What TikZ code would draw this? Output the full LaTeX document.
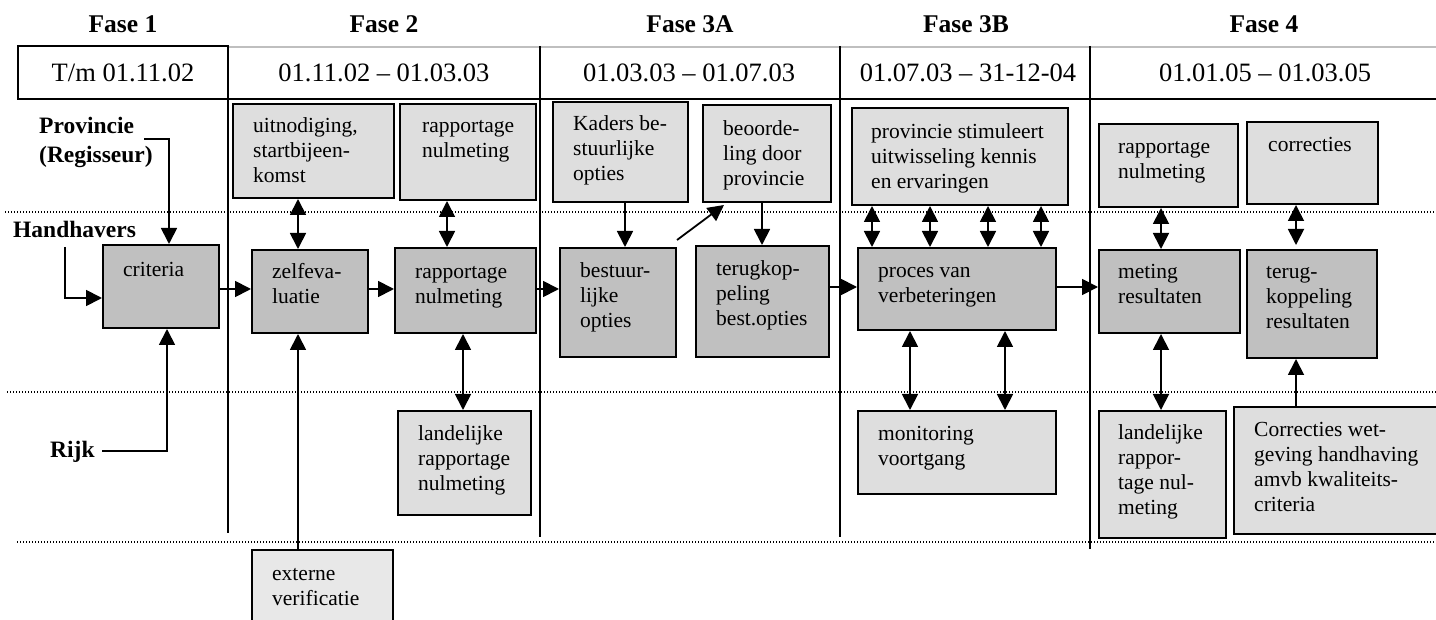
\documentclass[tikz,border=0pt]{standalone}
\usepackage{fontspec}
\setmainfont{Liberation Serif}
\usetikzlibrary{arrows.meta}
\definecolor{lightbox}{HTML}{DEDEDE}
\definecolor{darkbox}{HTML}{C0C0C0}
\definecolor{extbox}{HTML}{E8E8E8}
\begin{document}
\begin{tikzpicture}[x=1pt,y=-1pt,
  boxbase/.style={draw=black, line width=2pt, rectangle, inner sep=0pt, anchor=north west},
  lbox/.style={boxbase, fill=lightbox},
  dbox/.style={boxbase, fill=darkbox},
  ebox/.style={boxbase, fill=extbox},
  txt/.style={font=\fontsize{21.5}{25}\selectfont, align=left, inner sep=0pt, anchor=north west},
  hdr/.style={font=\bfseries\fontsize{25.5}{30}\selectfont, inner sep=0pt, anchor=base},
  datetxt/.style={font=\fontsize{26.5}{30}\selectfont, inner sep=0pt, anchor=base},
  rowlbl/.style={font=\bfseries\fontsize{23.5}{29}\selectfont, inner sep=0pt, align=left},
  arr/.style={line width=1.8pt, -{Triangle[length=16pt,width=16pt]}},
  dbl/.style={line width=1.8pt, {Triangle[length=16pt,width=16pt]}-{Triangle[length=16pt,width=16pt]}},
  vline/.style={line width=2pt, black},
  dotline/.style={line width=1.3pt, black, dash pattern=on 1.3pt off 1.7pt},
]
\useasboundingbox (0,0) rectangle (1436,620);

% ---------- header ----------
\draw[black!25, line width=1.2pt] (228,47) -- (1436,47);
\draw[line width=2pt] (18,46) rectangle (228,99);
\draw[line width=2pt] (18,99) -- (1436,99);

\node[hdr] (h1) at (123,33) {Fase 1};
\node[hdr] (h2) at (384,33) {Fase 2};
\node[hdr] (h3) at (690,33) {Fase 3A};
\node[hdr] (h4) at (966,33) {Fase 3B};
\node[hdr] (h5) at (1264,33) {Fase 4};

\node[datetxt] (d1) at (123,82) {T/m 01.11.02};
\node[datetxt] (d2) at (384,82) {01.11.02 – 01.03.03};
\node[datetxt] (d3) at (689,82) {01.03.03 – 01.07.03};
\node[datetxt] (d4) at (968,82) {01.07.03 – 31-12-04};
\node[datetxt] (d5) at (1265,82) {01.01.05 – 01.03.05};

% ---------- grid lines ----------
\draw[vline] (228,46) -- (228,533);
\draw[vline] (540,46) -- (540,537);
\draw[vline] (840,46) -- (840,537);
\draw[vline] (1090,46) -- (1090,549);

\draw[dotline] (5,212) -- (1436,212);
\draw[dotline] (7,392) -- (1436,392);
\draw[dotline] (17,542) -- (1436,542);

% ---------- row labels ----------
\node[rowlbl, anchor=north west] (prov0) at (39,112.7) {\strut Provincie\\(Regisseur)};
\node[rowlbl, anchor=base west] (hand) at (13,238) {Handhavers};
\node[rowlbl, anchor=base west] (rijk) at (50,457) {Rijk};

% ---------- row 1 boxes ----------
\node[lbox, minimum width=161pt, minimum height=94pt] (uit) at (232,103) {};
\node[lbox, minimum width=136pt, minimum height=96pt] (rap1) at (399,103) {};
\node[lbox, minimum width=135pt, minimum height=100pt] (kad) at (552,101) {};
\node[lbox, minimum width=128pt, minimum height=97pt] (beo) at (702,104) {};
\node[lbox, minimum width=216pt, minimum height=97pt] (prov) at (851,107) {};
\node[lbox, minimum width=139pt, minimum height=83pt] (rap4) at (1098,123) {};
\node[lbox, minimum width=131pt, minimum height=82pt] (cor) at (1246,121) {};

% ---------- row 2 boxes ----------
\node[dbox, minimum width=116pt, minimum height=83pt] (crit) at (102,244) {};
\node[dbox, minimum width=116pt, minimum height=83pt] (zelf) at (251,249) {};
\node[dbox, minimum width=141pt, minimum height=85pt] (rap2) at (394,247) {};
\node[dbox, minimum width=116pt, minimum height=109pt] (best) at (559,247) {};
\node[dbox, minimum width=133pt, minimum height=111pt] (terug) at (695,245) {};
\node[dbox, minimum width=198pt, minimum height=82pt] (proc) at (857,247) {};
\node[dbox, minimum width=141pt, minimum height=83pt] (met) at (1098,249) {};
\node[dbox, minimum width=130pt, minimum height=108pt] (terug4) at (1246,249) {};

% ---------- row 3 boxes ----------
\node[lbox, minimum width=133pt, minimum height=104pt] (land) at (397,410) {};
\node[lbox, minimum width=198pt, minimum height=83pt] (mon) at (857,410) {};
\node[lbox, minimum width=127pt, minimum height=127pt] (land4) at (1098,410) {};
\node[lbox, minimum width=210pt, minimum height=127pt] (corw) at (1233,406) {};
\node[ebox, minimum width=141pt, minimum height=80pt] (ext) at (251,549) {};

% ---------- box texts ----------
\node[txt] (uitT) at (253,114.5) {\strut uitnodiging,\\startbijeen-\\komst};
\node[txt] (rap1T) at (422,114.5) {\strut rapportage\\nulmeting};
\node[txt] (kadT) at (573,112.5) {\strut Kaders be-\\stuurlijke\\opties};
\node[txt] (beoT) at (723,117.5) {\strut beoorde-\\ling door\\provincie};
\node[txt] (provT) at (871,120.5) {\strut provincie stimuleert\\uitwisseling kennis\\en ervaringen};
\node[txt] (rap4T) at (1118,135.5) {\strut rapportage\\nulmeting};
\node[txt] (corT) at (1268,133.5) {\strut correcties};

\node[txt] (critT) at (123,258.5) {\strut criteria};
\node[txt] (zelfT) at (272,260.5) {\strut zelfeva-\\luatie};
\node[txt] (rap2T) at (415,260.5) {\strut rapportage\\nulmeting};
\node[txt] (bestT) at (580,259.5) {\strut bestuur-\\lijke\\opties};
\node[txt] (terugT) at (716,257.5) {\strut terugkop-\\peling\\best.opties};
\node[txt] (procT) at (878,259.5) {\strut proces van\\verbeteringen};
\node[txt] (metT) at (1118,260.5) {\strut meting\\resultaten};
\node[txt] (terug4T) at (1266,260.5) {\strut terug-\\koppeling\\resultaten};

\node[txt] (landT) at (418,422.5) {\strut landelijke\\rapportage\\nulmeting};
\node[txt] (monT) at (878,422.5) {\strut monitoring\\voortgang};
\node[txt] (land4T) at (1118,421.5) {\strut landelijke\\rappor-\\tage nul-\\meting};
\node[txt] (corwT) at (1254,418.5) {\strut Correcties wet-\\geving handhaving\\amvb kwaliteits-\\criteria};
\node[txt] (extT) at (272,562.5) {\strut externe\\verificatie};

% ---------- helper coordinates ----------
\coordinate (pstart) at (144,139);
\coordinate (hstart) at (65,247);
\coordinate (rstart) at (102,451);
\coordinate (cP) at (169,0);
\coordinate (cR) at (167,0);
\coordinate (hA) at (0,298);
\coordinate (r289) at (0,289);
\coordinate (r287) at (0,287);
\coordinate (x298) at (298,0);
\coordinate (x447) at (447,0);
\coordinate (x463) at (463,0);
\coordinate (x625) at (625,0);
\coordinate (x762) at (762,0);
\coordinate (x872) at (872,0);
\coordinate (x930) at (930,0);
\coordinate (x988) at (988,0);
\coordinate (x1041) at (1041,0);
\coordinate (x910) at (910,0);
\coordinate (x1005) at (1005,0);
\coordinate (x1161) at (1161,0);
\coordinate (x1296) at (1296,0);

% ---------- connectors into criteria ----------
\draw[arr] (pstart) -| (cP |- crit.north);
\draw[arr] (hstart) |- (crit.west |- hA);
\draw[arr] (rstart) -| (cR |- crit.south);

% ---------- horizontal flow ----------
\draw[arr] (crit.east |- r289) -- (zelf.west |- r289);
\draw[arr] (zelf.east |- r289) -- (rap2.west |- r289);
\draw[arr] (rap2.east |- r289) -- (best.west |- r289);
\draw[arr] (terug.east |- r287) -- (proc.west |- r287);
\draw[arr] (proc.east |- r287) -- (met.west |- r287);

% ---------- vertical links ----------
\draw[dbl] (x298 |- uit.south) -- (x298 |- zelf.north);
\draw[dbl] (x447 |- rap1.south) -- (x447 |- rap2.north);
\draw[dbl] (x463 |- rap2.south) -- (x463 |- land.north);
\draw[arr] (x298 |- ext.north) -- (x298 |- zelf.south);

\draw[arr] (x625 |- kad.south) -- (x625 |- best.north);
\draw[arr] ([yshift=7pt]best.north east) -- ([xshift=22pt,yshift=-2pt]beo.south west);
\draw[arr] (x762 |- beo.south) -- (x762 |- terug.north);

\draw[dbl] (x872 |- prov.south) -- (x872 |- proc.north);
\draw[dbl] (x930 |- prov.south) -- (x930 |- proc.north);
\draw[dbl] (x988 |- prov.south) -- (x988 |- proc.north);
\draw[dbl] (x1041 |- prov.south) -- (x1041 |- proc.north);
\draw[dbl] (x910 |- proc.south) -- (x910 |- mon.north);
\draw[dbl] (x1005 |- proc.south) -- (x1005 |- mon.north);

\draw[dbl] (x1161 |- rap4.south) -- (x1161 |- met.north);
\draw[dbl] (x1296 |- cor.south) -- ([yshift=4pt]x1296 |- terug4.north);
\draw[dbl] (x1161 |- met.south) -- (x1161 |- land4.north);
\draw[arr] (x1296 |- corw.north) -- (x1296 |- terug4.south);

\end{tikzpicture}
\end{document}
